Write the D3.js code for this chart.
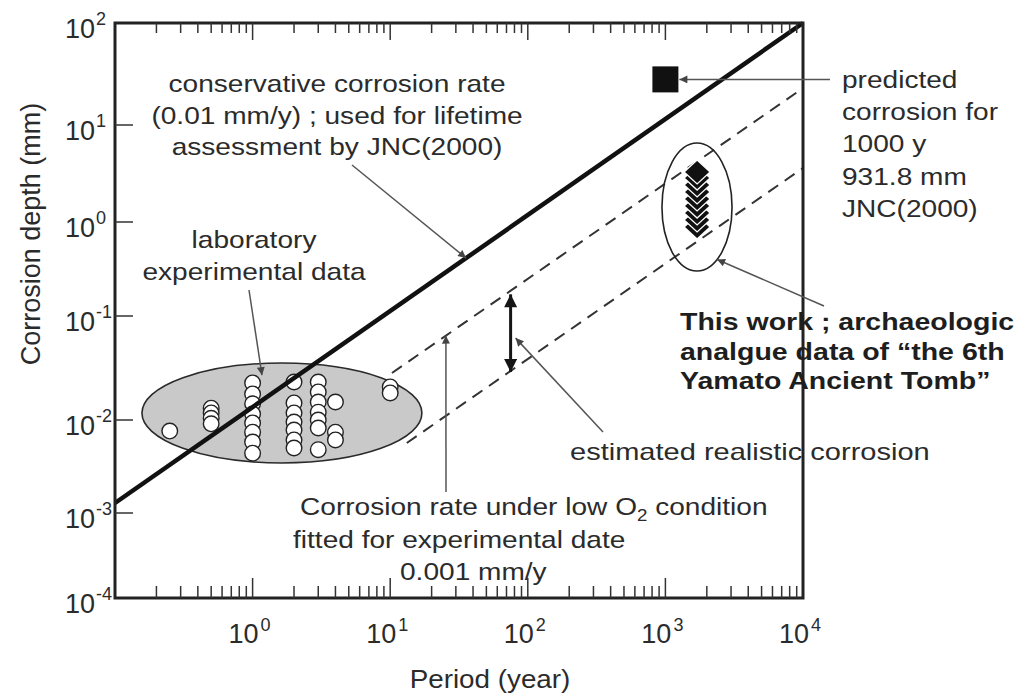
<!DOCTYPE html>
<html>
<head>
<meta charset="utf-8">
<script src="https://cdn.jsdelivr.net/npm/d3@7"></script>
<style>
    body { margin: 0; background: #fff; }
    text { font-family: "Liberation Sans", Arial, sans-serif; fill: #2b2b2b; }
</style>
</head>
<body>
<svg id="chart" width="1027" height="696"></svg>
<script>

// Axis ticks
const xTickValues = [1, 10, 100, 1000, 10000];
const xTickExponents = ["0", "1", "2", "3", "4"];
const yTickValues = [1e-4, 1e-3, 1e-2, 1e-1, 1, 10, 100];
const yTickExponents = ["-4", "-3", "-2", "-1", "0", "1", "2"];

// Laboratory experimental data (period in years, depth in mm)
const labPeriod = [0.25,
    0.5, 0.5, 0.5, 0.5,
    1, 1, 1, 1, 1, 1, 1, 1,
    2, 2, 2, 2, 2, 2, 2,
    3, 3, 3, 3, 3, 3, 3,
    4, 4, 4,
    10, 10];
const labDepth = [0.0076,
    0.013, 0.0117, 0.0104, 0.0091,
    0.0227, 0.0178, 0.0143, 0.0114, 0.0093, 0.0074, 0.0058, 0.0044,
    0.0232, 0.0146, 0.0117, 0.0095, 0.0078, 0.0061, 0.005,
    0.0232, 0.0186, 0.0149, 0.0119, 0.01, 0.0082, 0.0048,
    0.0149, 0.0074, 0.0061,
    0.0208, 0.0182];

// Archaeological analogue (6th Yamato Ancient Tomb)
const tombPeriod = 1700;
const tombDepth = [3.28, 2.84, 2.41, 2.04, 1.73, 1.46, 1.24, 1.05, 0.885];

// Predicted corrosion JNC(2000)
const predictedPoint = [1000, 28];

// Lines: [period, depth] end points
const conservativeLine = [[0.1, 0.00128], [10000, 100]];
const upperDashed = [[10.3, 0.0283], [10000, 23]];
const lowerDashed = [[13.2, 0.00566], [10000, 3.6]];
const realisticRange = [[75, 0.17], [75, 0.029]];

// Enclosing ellipses: period and depth extents
const labEllipse = { x: [0.157, 17], y: [0.00345, 0.0353] };
const tombEllipse = { x: [944, 3050], y: [0.301, 6.52] };

const svg = d3.select("#chart");
svg.append("rect").attr("width", 1027).attr("height", 696).attr("fill", "#fff");

// Scales (y follows the uneven decade spacing of the original figure)
const x = d3.scaleLog().domain([0.1, 10000]).range([115, 803]);
const y = d3.scaleLog().domain(yTickValues).range([598, 513, 420, 316, 222, 125, 23]);

const [xLeft, xRight] = x.range();
const yBottom = y(1e-4), yTop = y(100);

// Arrow heads
const defs = svg.append("defs");
defs.append("marker")
    .attr("id", "head")
    .attr("viewBox", "0 0 10 10")
    .attr("refX", 10).attr("refY", 5)
    .attr("markerWidth", 11).attr("markerHeight", 8)
    .attr("markerUnits", "userSpaceOnUse")
    .attr("orient", "auto")
    .append("path").attr("d", "M0,0L10,5L0,10Z").attr("fill", "#444");
defs.append("marker")
    .attr("id", "bighead")
    .attr("viewBox", "0 0 10 10")
    .attr("refX", 10).attr("refY", 5)
    .attr("markerWidth", 19).attr("markerHeight", 13)
    .attr("markerUnits", "userSpaceOnUse")
    .attr("orient", "auto-start-reverse")
    .append("path").attr("d", "M0,0L10,5L0,10Z").attr("fill", "#151515");

/** Text helper, slightly widened like the original scan */
function addText(g, px, py, str, opts = {}) {
    return g.append("text")
        .attr("transform", `translate(${px},${py}) scale(${opts.sx || 1.17},1)`)
        .attr("text-anchor", opts.anchor || "start")
        .style("font-size", (opts.size || 24) + "px")
        .style("font-weight", opts.bold ? "bold" : null)
        .style("fill", opts.fill || null)
        .text(str);
}

/** Point on a line segment (in pixel space) at a given period */
function onLine(seg, period) {
    const [p0, p1] = seg.map((d) => [x(d[0]), y(d[1])]);
    const px = x(period);
    const t = (px - p0[0]) / (p1[0] - p0[0]);
    return [px, p0[1] + t * (p1[1] - p0[1])];
}

const plot = svg.append("g");

// Lab ellipse
plot.append("ellipse")
    .attr("cx", (x(labEllipse.x[0]) + x(labEllipse.x[1])) / 2)
    .attr("cy", (y(labEllipse.y[0]) + y(labEllipse.y[1])) / 2)
    .attr("rx", (x(labEllipse.x[1]) - x(labEllipse.x[0])) / 2)
    .attr("ry", (y(labEllipse.y[0]) - y(labEllipse.y[1])) / 2)
    .attr("fill", "#c9c9c9")
    .attr("stroke", "#2a2a2a")
    .attr("stroke-width", 1.6);

// Dashed lines
plot.selectAll(".dashed")
    .data([upperDashed, lowerDashed])
    .enter()
    .append("line")
    .classed("dashed", true)
    .attr("x1", (d) => x(d[0][0])).attr("y1", (d) => y(d[0][1]))
    .attr("x2", (d) => x(d[1][0])).attr("y2", (d) => y(d[1][1]))
    .attr("stroke", "#333")
    .attr("stroke-width", 2)
    .attr("stroke-dasharray", "12,8");

// Lab points: draw top to bottom so lower circles overlap upper ones
const labPoints = labPeriod.map((p, i) => ({ p: p, d: labDepth[i] }))
    .sort((a, b) => d3.descending(a.d, b.d));
plot.selectAll(".lab")
    .data(labPoints)
    .enter()
    .append("circle")
    .classed("lab", true)
    .attr("cx", (d) => x(d.p))
    .attr("cy", (d) => y(d.d))
    .attr("r", 7.8)
    .attr("fill", "#fff")
    .attr("stroke", "#222")
    .attr("stroke-width", 1.4);

// Conservative corrosion line
plot.append("line")
    .attr("x1", x(conservativeLine[0][0])).attr("y1", y(conservativeLine[0][1]))
    .attr("x2", x(conservativeLine[1][0])).attr("y2", y(conservativeLine[1][1]))
    .attr("stroke", "#111")
    .attr("stroke-width", 4.5);

// Tomb ellipse
const tc = [(x(tombEllipse.x[0]) + x(tombEllipse.x[1])) / 2, (y(tombEllipse.y[0]) + y(tombEllipse.y[1])) / 2];
const trx = (x(tombEllipse.x[1]) - x(tombEllipse.x[0])) / 2,
      tryy = (y(tombEllipse.y[0]) - y(tombEllipse.y[1])) / 2;
plot.append("ellipse")
    .attr("cx", tc[0]).attr("cy", tc[1])
    .attr("rx", trx).attr("ry", tryy)
    .attr("fill", "none")
    .attr("stroke", "#222")
    .attr("stroke-width", 1.6);

// Tomb diamonds: lowest first so each upper one sits on top
plot.selectAll(".tomb")
    .data(tombDepth.slice().reverse())
    .enter()
    .append("path")
    .classed("tomb", true)
    .attr("transform", (d) => `translate(${x(tombPeriod)},${y(d)})`)
    .attr("d", "M0,-12L13,0L0,12L-13,0Z")
    .attr("fill", "#111")
    .attr("stroke", "#fff")
    .attr("stroke-width", 1.3);

// Predicted square
plot.append("rect")
    .attr("x", x(predictedPoint[0]) - 13)
    .attr("y", y(predictedPoint[1]) - 13)
    .attr("width", 26).attr("height", 26)
    .attr("fill", "#111");

// Realistic range double arrow
plot.append("line")
    .attr("x1", x(realisticRange[0][0])).attr("y1", y(realisticRange[0][1]))
    .attr("x2", x(realisticRange[1][0])).attr("y2", y(realisticRange[1][1]))
    .attr("stroke", "#151515")
    .attr("stroke-width", 3)
    .attr("marker-start", "url(#bighead)")
    .attr("marker-end", "url(#bighead)");

// Frame
svg.append("rect")
    .attr("x", xLeft).attr("y", yTop)
    .attr("width", xRight - xLeft).attr("height", yBottom - yTop)
    .attr("fill", "none")
    .attr("stroke", "#222")
    .attr("stroke-width", 3);

// X ticks (bottom and top, inward)
const minorX = [];
d3.range(-1, 4).forEach((e) => d3.range(2, 10).forEach((k) => minorX.push(k * Math.pow(10, e))));
const ticks = svg.append("g").attr("stroke", "#333").attr("stroke-width", 1.5);
minorX.forEach((v) => {
    ticks.append("line").attr("x1", x(v)).attr("x2", x(v)).attr("y1", yBottom).attr("y2", yBottom - 12);
    ticks.append("line").attr("x1", x(v)).attr("x2", x(v)).attr("y1", yTop).attr("y2", yTop + 10);
});
xTickValues.slice(0, -1).forEach((v) => {
    ticks.append("line").attr("x1", x(v)).attr("x2", x(v)).attr("y1", yBottom).attr("y2", yBottom - 20);
    ticks.append("line").attr("x1", x(v)).attr("x2", x(v)).attr("y1", yTop).attr("y2", yTop + 17);
});
yTickValues.slice(1, -1).forEach((v) => {
    ticks.append("line").attr("x1", xLeft).attr("x2", xLeft + 18).attr("y1", y(v)).attr("y2", y(v));
});

// Tick labels
const labels = svg.append("g");
xTickValues.forEach((v, i) => {
    addText(labels, x(v) + 6, 643, "10", { anchor: "end", size: 27, sx: 1 });
    addText(labels, x(v) + 8, 631, xTickExponents[i], { size: 18, sx: 1 });
});
yTickValues.forEach((v, i) => {
    addText(labels, 95, y(v) + 15, "10", { anchor: "end", size: 27, sx: 1 });
    addText(labels, 96, y(v) + 2, yTickExponents[i], { size: 18, sx: 1 });
});

// Axis titles
addText(labels, 490, 688, "Period (year)", { anchor: "middle", size: 26, sx: 1.07 });
svg.append("text")
    .attr("transform", "translate(40,234) rotate(-90)")
    .attr("text-anchor", "middle")
    .style("font-size", "27px")
    .text("Corrosion depth (mm)");

// Annotations
const notes = svg.append("g");
[
    { lines: ["conservative corrosion rate", "(0.01 mm/y) ; used for lifetime", "assessment by JNC(2000)"], x: 337, y: [92, 124, 155], anchor: "middle" },
    { lines: ["laboratory", "experimental data"], x: 254, y: [248, 280], anchor: "middle" },
    { lines: ["predicted", "corrosion for", "1000 y", "931.8 mm", "JNC(2000)"], x: 842, y: [88, 120, 152, 185, 217] },
    { lines: ["estimated realistic corrosion"], x: 570, y: [460] },
    { lines: ["fitted for experimental date"], x: 293, y: [548] },
    { lines: ["0.001 mm/y"], x: 400, y: [580] },
].forEach((n) => n.lines.forEach((s, i) => addText(notes, n.x, n.y[i], s, { anchor: n.anchor, sx: n.lines.length === 1 && n.y[0] === 460 ? 1.21 : 1.17 })));

["This work ; archaeologic", "analgue data of \u201cthe 6th", "Yamato Ancient Tomb\u201d"]
    .forEach((s, i) => addText(notes, 680, [330, 360, 389][i], s, { bold: true, size: 23, sx: 1.24, fill: "#1e1e1e" }));

// Subscript line
const o2 = addText(notes, 300, 515, "Corrosion rate under low O");
o2.append("tspan").attr("dy", 6).style("font-size", "16px").text("2");
o2.append("tspan").attr("dy", -6).text(" condition");

// Callout arrows
const tombTip = [tc[0] + trx * Math.cos(55 * Math.PI / 180), tc[1] + tryy * Math.sin(55 * Math.PI / 180)];
const rangeMid = (y(realisticRange[0][1]) + y(realisticRange[1][1])) / 2;
[
    { from: [352, 165], to: onLine(conservativeLine, 35.6) },
    { from: [249, 290], to: [x(1.17), y(0.027)] },
    { from: [830, y(predictedPoint[1])], to: [x(predictedPoint[0]) + 14, y(predictedPoint[1])] },
    { from: [824, 306], to: tombTip },
    { from: [603, 432], to: [x(realisticRange[0][0]) + 5, rangeMid + 5] },
    { from: [446, 492], to: onLine(upperDashed, 25.4) },
].forEach((c) => {
    notes.append("line")
        .attr("x1", c.from[0]).attr("y1", c.from[1])
        .attr("x2", c.to[0]).attr("y2", c.to[1])
        .attr("stroke", "#555")
        .attr("stroke-width", 1.5)
        .attr("marker-end", "url(#head)");
});

</script>
</body>
</html>
